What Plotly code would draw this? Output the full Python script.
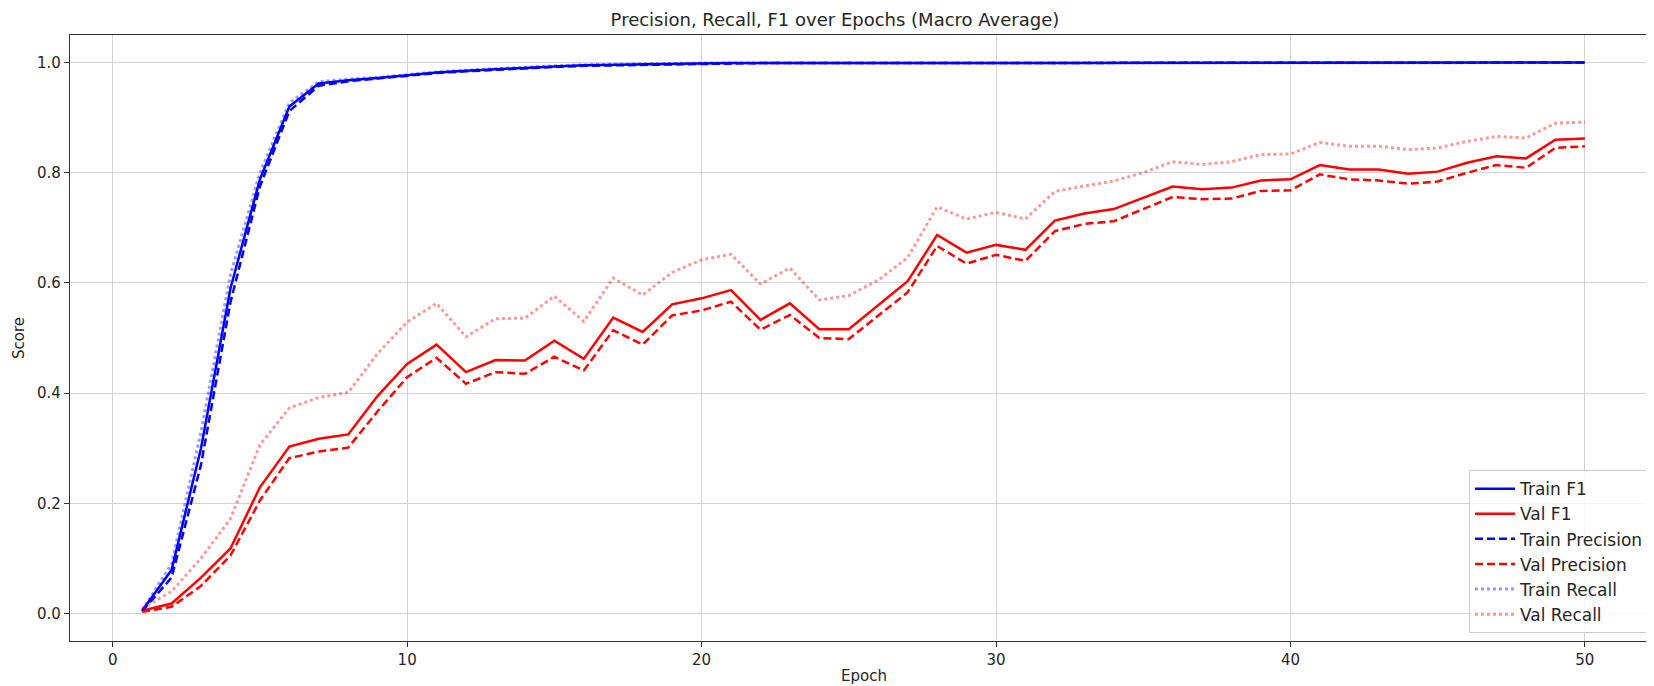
import plotly.graph_objects as go

# epochs and scores (macro average)
epochs = list(range(1, 51))

train_f1 = [0.005, 0.079, 0.300, 0.590, 0.788, 0.920, 0.962, 0.968, 0.972, 0.977,
            0.982, 0.985, 0.988, 0.991, 0.993, 0.995, 0.996, 0.997, 0.998, 0.998,
            0.999, 0.999, 0.999, 0.999, 0.999, 0.999, 1.000, 1.000, 1.000, 1.000,
            1.000, 1.000, 1.000, 1.000, 1.000, 1.000, 1.000, 1.000, 1.000, 1.000,
            1.000, 1.000, 1.000, 1.000, 1.000, 1.000, 1.000, 1.000, 1.000, 1.000]
train_precision = [0.004, 0.065, 0.270, 0.565, 0.775, 0.912, 0.958, 0.966, 0.971, 0.976,
                   0.981, 0.984, 0.987, 0.990, 0.992, 0.994, 0.995, 0.996, 0.997, 0.998,
                   0.998, 0.999, 0.999, 0.999, 0.999, 0.999, 0.999, 1.000, 1.000, 1.000,
                   1.000, 1.000, 1.000, 1.000, 1.000, 1.000, 1.000, 1.000, 1.000, 1.000,
                   1.000, 1.000, 1.000, 1.000, 1.000, 1.000, 1.000, 1.000, 1.000, 1.000]
train_recall = [0.006, 0.090, 0.330, 0.615, 0.800, 0.927, 0.965, 0.970, 0.973, 0.978,
                0.983, 0.986, 0.989, 0.992, 0.994, 0.996, 0.997, 0.998, 0.998, 0.999,
                0.999, 0.999, 1.000, 1.000, 1.000, 1.000, 1.000, 1.000, 1.000, 1.000,
                1.000, 1.000, 1.000, 1.000, 1.000, 1.000, 1.000, 1.000, 1.000, 1.000,
                1.000, 1.000, 1.000, 1.000, 1.000, 1.000, 1.000, 1.000, 1.000, 1.000]

val_f1 = [0.005, 0.018, 0.065, 0.118, 0.229, 0.303, 0.317, 0.325, 0.395, 0.453,
          0.488, 0.438, 0.460, 0.459, 0.495, 0.462, 0.537, 0.511, 0.561, 0.572,
          0.587, 0.533, 0.563, 0.516, 0.516, 0.559, 0.603, 0.687, 0.655, 0.669,
          0.660, 0.713, 0.726, 0.734, 0.755, 0.775, 0.770, 0.773, 0.786, 0.788,
          0.814, 0.806, 0.806, 0.798, 0.802, 0.818, 0.830, 0.826, 0.860, 0.862]
val_precision = [0.003, 0.012, 0.050, 0.105, 0.205, 0.282, 0.294, 0.301, 0.367, 0.429,
                 0.464, 0.417, 0.438, 0.435, 0.466, 0.441, 0.514, 0.488, 0.541, 0.550,
                 0.566, 0.515, 0.542, 0.500, 0.498, 0.541, 0.583, 0.667, 0.635, 0.651,
                 0.640, 0.694, 0.707, 0.712, 0.734, 0.756, 0.752, 0.753, 0.767, 0.768,
                 0.797, 0.788, 0.786, 0.780, 0.784, 0.800, 0.814, 0.809, 0.845, 0.848]
val_recall = [0.010, 0.040, 0.100, 0.172, 0.306, 0.373, 0.392, 0.401, 0.472, 0.529,
              0.563, 0.502, 0.535, 0.536, 0.576, 0.530, 0.609, 0.578, 0.619, 0.642,
              0.652, 0.598, 0.627, 0.569, 0.577, 0.605, 0.646, 0.738, 0.716, 0.728,
              0.716, 0.766, 0.776, 0.785, 0.800, 0.820, 0.815, 0.820, 0.833, 0.834,
              0.855, 0.848, 0.848, 0.842, 0.845, 0.857, 0.866, 0.863, 0.890, 0.892]

x_ticks = [0, 10, 20, 30, 40, 50]
y_ticks = [0.0, 0.2, 0.4, 0.6, 0.8, 1.0]

BLUE = 'rgb(0,0,255)'
RED = 'rgb(255,0,0)'
LIGHT_BLUE = 'rgba(0,0,255,0.4)'
LIGHT_RED = 'rgba(255,0,0,0.4)'
FONT = 'DejaVu Sans'
TEXT = '#262626'

series = [
    ('Train F1', train_f1, BLUE, 'solid', 2.5),
    ('Val F1', val_f1, RED, 'solid', 2.5),
    ('Train Precision', train_precision, BLUE, '8px,4px', 2.5),
    ('Val Precision', val_precision, RED, '8px,4px', 2.5),
    ('Train Recall', train_recall, LIGHT_BLUE, '3px,3px', 3),
    ('Val Recall', val_recall, LIGHT_RED, '3px,3px', 3),
]

fig = go.Figure()
for name, values, color, dash, lw in series:
    fig.add_trace(go.Scatter(x=epochs, y=values, mode='lines', name=name,
                             line=dict(color=color, width=lw, dash=dash)))

W, H = 1654, 686
L, R, T, B = 62, 5, 27, 53

fig.update_layout(
    width=W, height=H,
    margin=dict(l=L, r=R, t=T, b=B),
    plot_bgcolor='white', paper_bgcolor='white',
    font=dict(family=FONT, size=15, color=TEXT),
    title=dict(text='Precision, Recall, F1 over Epochs (Macro Average)',
               x=0.482, xref='paper', xanchor='center',
               y=1 - 12 / H, yref='container', yanchor='middle',
               font=dict(family=FONT, size=18, color=TEXT)),
    legend=dict(x=0.9956, y=0.013, xanchor='right', yanchor='bottom',
                bgcolor='rgba(255,255,255,0.8)', bordercolor='#cccccc', borderwidth=1,
                font=dict(family=FONT, size=17, color=TEXT),
                tracegroupgap=0, itemwidth=40),
    showlegend=True,
)

fig.update_xaxes(range=[-1.45, 52.45], tickvals=x_ticks, ticktext=[str(t) for t in x_ticks],
                 showgrid=True, gridcolor='#d3d3d3', gridwidth=1,
                 showline=True, linecolor='#333333', linewidth=1.2, mirror=True,
                 ticks='outside', ticklen=5, tickcolor='#333333', zeroline=False)
fig.update_yaxes(range=[-0.05, 1.05], tickvals=y_ticks, ticktext=[f'{t:.1f}' for t in y_ticks],
                 showgrid=True, gridcolor='#d3d3d3', gridwidth=1,
                 showline=True, linecolor='#333333', linewidth=1.2, mirror=True,
                 ticks='outside', ticklen=5, tickcolor='#333333', zeroline=False)

# axis labels placed as annotations so their pixel position matches the reference
fig.add_annotation(text='Epoch', xref='paper', yref='paper', x=0.5, y=0,
                   xanchor='center', yanchor='middle', yshift=-35, showarrow=False,
                   font=dict(family=FONT, size=15, color=TEXT))
fig.add_annotation(text='Score', xref='paper', yref='paper', x=0, y=0.5,
                   xanchor='center', yanchor='middle', xshift=-51, textangle=-90,
                   showarrow=False, font=dict(family=FONT, size=15, color=TEXT))

fig.write_html("out.html")
